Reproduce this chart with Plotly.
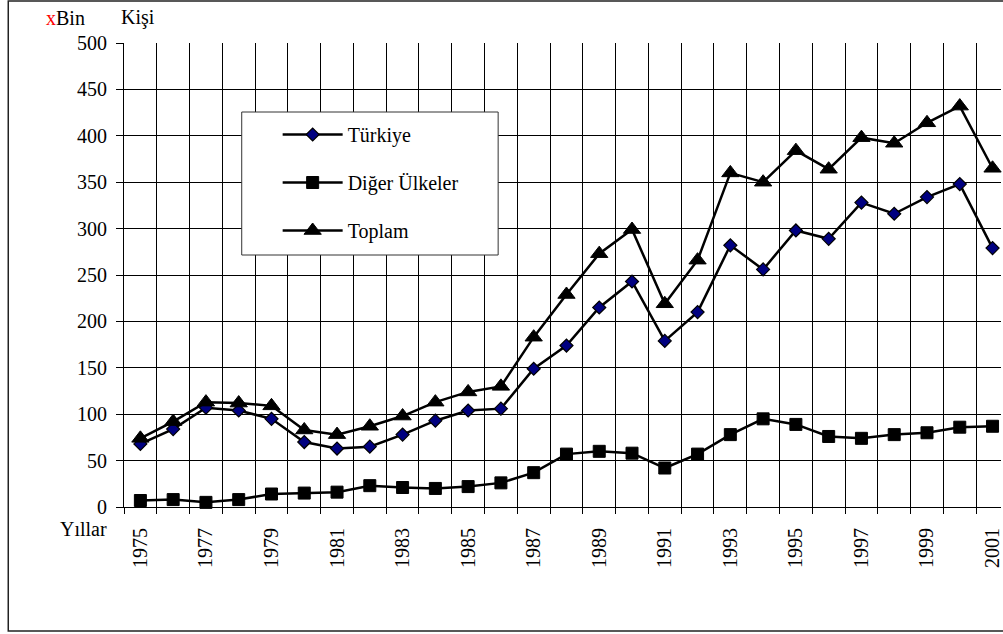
import plotly.graph_objects as go

years = list(range(1975, 2002))
turkiye = [68, 84, 107, 104, 95, 70, 63, 65, 78, 93, 104, 106, 149, 174, 215, 243, 179, 210,
           282, 256, 298, 289, 328, 316, 334, 348, 279]
diger = [7, 8, 5, 8, 14, 15, 16, 23, 21, 20, 22, 26, 37, 57, 60, 58, 42, 57,
         78, 95, 89, 76, 74, 78, 80, 86, 87]
toplam = [74, 92, 113, 112, 109, 83, 78, 87, 98, 113, 124, 130, 183, 229, 273, 299, 219, 266,
          360, 350, 384, 364, 398, 392, 414, 432, 365]
label_years = list(range(1975, 2002, 2))
y_ticks = list(range(0, 501, 50))

FONT = "Liberation Serif"
W, H = 1003, 634
L, T, B = 124, 43, 127
PW = W - L
PH = H - T - B
STEP = 32.85


def xp(px):
    return (px - L) / PW


def yp(py):
    return (H - B - py) / PH


fig = go.Figure()
fig.add_trace(go.Scatter(
    x=years, y=turkiye, name="Türkiye", mode="lines+markers", legendgroup="a",
    line=dict(color="black", width=2.5), cliponaxis=False,
    marker=dict(symbol="diamond", size=10, color="#000080", line=dict(color="black", width=1.2))))
fig.add_trace(go.Scatter(
    x=years, y=diger, name="Diğer Ülkeler", mode="lines+markers", legendgroup="b",
    line=dict(color="black", width=2.5), cliponaxis=False,
    marker=dict(symbol="square", size=12, color="black", line=dict(color="black", width=1))))
fig.add_trace(go.Scatter(
    x=years, y=toplam, name="Toplam", mode="lines+markers", legendgroup="c",
    line=dict(color="black", width=2.5), cliponaxis=False,
    marker=dict(symbol="triangle-up", size=15, color="black", line=dict(color="black", width=1))))

fig.update_layout(
    width=W, height=H,
    margin=dict(l=L, r=0, t=T, b=B, pad=0),
    paper_bgcolor="white", plot_bgcolor="white",
    font=dict(family=FONT, size=20, color="black"),
    showlegend=True,
    legend=dict(
        x=xp(278), y=yp(115), xanchor="left", yanchor="top",
        bgcolor="rgba(0,0,0,0)", borderwidth=0,
        font=dict(family=FONT, size=20, color="black"),
        tracegroupgap=19, itemwidth=60,
    ),
    xaxis=dict(
        type="linear", range=[1974.5, 1974.5 + PW / STEP],
        tickmode="array", tickvals=label_years, ticktext=[str(v) for v in label_years],
        tickangle=-90, ticks="", showgrid=False, zeroline=False,
        showline=True, linecolor="black", linewidth=1,
        ticklabelstandoff=12, ticklabeloverflow="allow",
        tickfont=dict(family=FONT, size=20, color="black"),
        minor=dict(tick0=1974.5, dtick=1, ticks="outside", ticklen=6, tickcolor="black",
                   tickwidth=1, showgrid=True, gridcolor="black", gridwidth=1),
    ),
    yaxis=dict(
        range=[0, 500], tickmode="array", tickvals=y_ticks,
        ticks="outside", ticklen=7, tickcolor="black", tickwidth=1,
        showgrid=True, gridcolor="black", gridwidth=1, zeroline=False,
        showline=True, linecolor="black", linewidth=1,
        ticklabelstandoff=5,
        tickfont=dict(family=FONT, size=20, color="black"),
    ),
    shapes=[
        dict(type="rect", xref="paper", yref="paper",
             x0=xp(8), x1=xp(1012), y0=yp(631), y1=yp(1),
             line=dict(color="#222222", width=1.5), fillcolor="rgba(0,0,0,0)", layer="below"),
        dict(type="rect", xref="paper", yref="paper",
             x0=xp(242), x1=xp(499), y0=yp(255), y1=yp(112),
             line=dict(color="#333333", width=1), fillcolor="white", layer="above"),
    ],
    annotations=[
        dict(xref="paper", yref="paper", x=xp(44), y=yp(18), xanchor="left", yanchor="middle",
             text="<span style='color:red'>x</span>Bin", showarrow=False,
             font=dict(family=FONT, size=20, color="black")),
        dict(xref="paper", yref="paper", x=xp(119), y=yp(18), xanchor="left", yanchor="middle",
             text="Kişi", showarrow=False, font=dict(family=FONT, size=20, color="black")),
        dict(xref="paper", yref="paper", x=xp(109), y=yp(529), xanchor="right", yanchor="middle",
             text="Yıllar", showarrow=False, font=dict(family=FONT, size=20, color="black")),
    ],
)

fig.write_html("out.html", config={"displayModeBar": False},
               post_script="document.body.style.margin='0';document.body.style.overflow='hidden';")
